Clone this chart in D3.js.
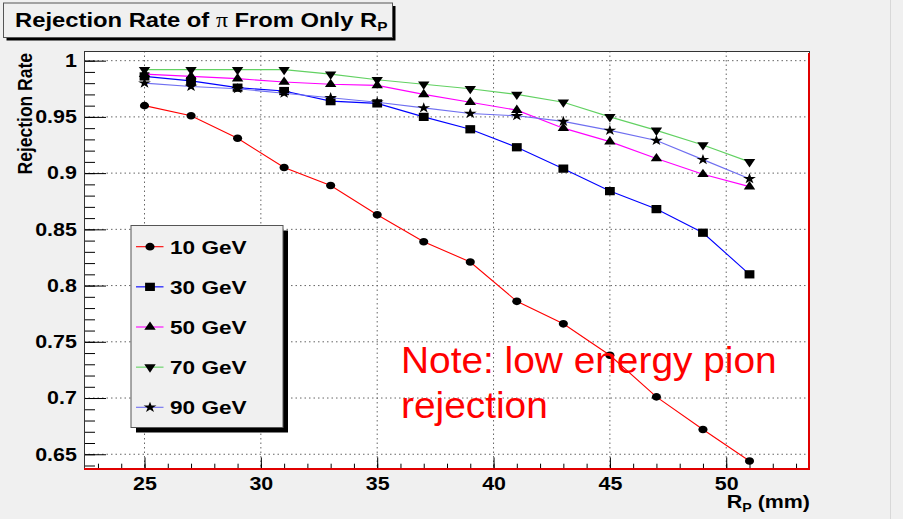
<!DOCTYPE html>
<html>
<head>
<meta charset="utf-8">
<script src="https://cdn.jsdelivr.net/npm/d3@7"></script>
<style>
  body { margin: 0; background: #f0f0f0; }
  svg { display: block; }
  text { font-family: "Liberation Sans", Arial, Helvetica, sans-serif; }
</style>
</head>
<body>
<div id="chart"></div>
<script>
const width = 903,
    height = 519

// R_P in mm
const rp = [25, 27, 29, 31, 33, 35, 37, 39, 41, 43, 45, 47, 49, 51]

const gev10 = [0.960, 0.951, 0.931, 0.905, 0.889, 0.863, 0.839, 0.821, 0.786, 0.766, 0.738, 0.701, 0.672, 0.644]
const gev30 = [0.986, 0.982, 0.976, 0.973, 0.964, 0.962, 0.950, 0.939, 0.923, 0.904, 0.884, 0.868, 0.847, 0.810]
const gev50 = [0.988, 0.986, 0.984, 0.981, 0.979, 0.978, 0.970, 0.963, 0.956, 0.940, 0.928, 0.913, 0.899, 0.888]
const gev70 = [0.992, 0.992, 0.992, 0.992, 0.988, 0.983, 0.979, 0.975, 0.970, 0.963, 0.950, 0.938, 0.925, 0.910]
const gev90 = [0.980, 0.977, 0.975, 0.971, 0.967, 0.963, 0.958, 0.953, 0.951, 0.946, 0.938, 0.929, 0.912, 0.895]

const seriesNames = ["10 GeV", "30 GeV", "50 GeV", "70 GeV", "90 GeV"]
const seriesValues = [gev10, gev30, gev50, gev70, gev90]

const xTicks = [25, 30, 35, 40, 45, 50]
const xMinor = d3.range(23, 54, 1)
const yTicks = [0.65, 0.7, 0.75, 0.8, 0.85, 0.9, 0.95, 1]
const yMinor = d3.range(64, 101, 1).map(d => d / 100)

// picture is stretched sideways a bit (like the original export)
const SX = 1.19

const color = d3.scaleOrdinal(seriesNames, ["#ff0000", "#0000ff", "#ff00ff", "#62d162", "#6f6ff0"])
const shape = d3.scaleOrdinal(seriesNames, [d3.symbolCircle, d3.symbolSquare, d3.symbolTriangle, d3.symbolTriangle, d3.symbolStar])
const shapeSize = d3.scaleOrdinal(seriesNames, [46, 68, 40, 40, 36])
const flip = name => name === "70 GeV" ? " rotate(180)" : ""

const frame = {left: 84, right: 810, top: 51, bottom: 470}

const x = d3.scaleLinear().domain([22.4, 53.6]).range([frame.left, frame.right])
const y = d3.scaleLinear().domain([0.636, 1.0086]).range([frame.bottom, frame.top])

const svg = d3.select("#chart")
    .append("svg")
    .attr("width", width)
    .attr("height", height)

svg.append("rect")
    .attr("width", width)
    .attr("height", height)
    .attr("fill", "#f0f0f0")

svg.append("line")
    .attr("x1", 890.5).attr("x2", 890.5)
    .attr("y1", 0).attr("y2", height)
    .attr("stroke", "#d8d8d8")

// title box
svg.append("rect")
    .attr("x", 6.5).attr("y", 6)
    .attr("width", 389).attr("height", 34.5)
    .attr("fill", "#000")
svg.append("rect")
    .attr("x", 3.5).attr("y", 3)
    .attr("width", 389).attr("height", 34.5)
    .attr("fill", "#f0f0f0")
    .attr("stroke", "#555")

const title = svg.append("text")
    .attr("transform", `translate(15,26.7) scale(${SX},1)`)
    .attr("font-size", 20)
    .attr("font-weight", "bold")
title.append("tspan").text("Rejection Rate of ")
title.append("tspan")
    .style("font-family", "'Liberation Serif', 'Times New Roman', serif")
    .attr("font-weight", "normal")
    .text("\u03c0")
title.append("tspan").text(" From Only R")
title.append("tspan")
    .attr("font-size", 13)
    .attr("dy", 4)
    .text("P")

// plot area
svg.append("rect")
    .attr("x", frame.left).attr("y", frame.top)
    .attr("width", frame.right - frame.left)
    .attr("height", frame.bottom - frame.top)
    .attr("fill", "#fff")

// dotted grid
svg.append("g")
    .selectAll("line")
    .data(xTicks)
    .enter()
    .append("line")
    .attr("x1", d => x(d)).attr("x2", d => x(d))
    .attr("y1", frame.top).attr("y2", frame.bottom)
    .attr("stroke", "#666")
    .attr("stroke-dasharray", "1.5,3")

svg.append("g")
    .selectAll("line")
    .data(yTicks)
    .enter()
    .append("line")
    .attr("x1", frame.left).attr("x2", frame.right)
    .attr("y1", d => y(d)).attr("y2", d => y(d))
    .attr("stroke", "#666")
    .attr("stroke-dasharray", "1.5,3")

// axes, ticks pointing inwards
const yAxis = svg.append("g")
    .attr("transform", `translate(${frame.left},0)`)
    .call(d3.axisLeft(y).tickValues(yTicks).tickSizeInner(-22).tickSizeOuter(0).tickPadding(6)
        .tickFormat(d3.format("~g")))
svg.append("g")
    .attr("transform", `translate(${frame.left},0)`)
    .call(d3.axisLeft(y).tickValues(yMinor).tickSizeInner(-11).tickSizeOuter(0).tickFormat(""))

const xAxis = svg.append("g")
    .attr("transform", `translate(0,${frame.bottom})`)
    .call(d3.axisBottom(x).tickValues(xTicks).tickSizeInner(-12.6).tickSizeOuter(0).tickPadding(7))
svg.append("g")
    .attr("transform", `translate(0,${frame.bottom})`)
    .call(d3.axisBottom(x).tickValues(xMinor).tickSizeInner(-6.3).tickSizeOuter(0).tickFormat(""))

svg.selectAll(".domain").remove()
svg.selectAll(".tick line").attr("stroke", "#000")

yAxis.selectAll("text")
    .attr("font-size", 18)
    .attr("font-weight", "bold")
    .attr("font-family", null)
    .attr("transform", `scale(${SX},1)`)
xAxis.selectAll("text")
    .attr("font-size", 18)
    .attr("font-weight", "bold")
    .attr("font-family", null)
    .attr("transform", `scale(${SX},1)`)

// frame border
svg.append("rect")
    .attr("x", frame.left + 0.5).attr("y", frame.top + 0.5)
    .attr("width", frame.right - frame.left - 1)
    .attr("height", frame.bottom - frame.top - 1)
    .attr("fill", "none")
    .attr("stroke", "#333")
svg.append("path")
    .attr("d", `M${frame.right - 1},${frame.top + 2}V${frame.bottom - 1}H${frame.left}`)
    .attr("fill", "none")
    .attr("stroke", "#e00000")
    .attr("stroke-width", 2)

// axis titles
svg.append("text")
    .attr("transform", `translate(31.5,53) rotate(-90) scale(1,${SX})`)
    .attr("text-anchor", "end")
    .attr("font-size", 17.5)
    .attr("font-weight", "bold")
    .text("Rejection Rate")

const xTitle = svg.append("text")
    .attr("transform", `translate(810,508) scale(${SX},1)`)
    .attr("text-anchor", "end")
    .attr("font-size", 18)
    .attr("font-weight", "bold")
xTitle.append("tspan").text("R")
xTitle.append("tspan").attr("font-size", 12).attr("dy", 4).text("P")
xTitle.append("tspan").attr("dy", -4).text(" (mm)")

// series
const series = seriesNames.map((name, i) => ({
    name: name,
    points: rp.map((r, j) => ({x: r, y: seriesValues[i][j]}))
}))

const line = d3.line()
    .x(d => x(d.x))
    .y(d => y(d.y))

const graphs = svg.append("g")
    .selectAll("g")
    .data(series)
    .enter()
    .append("g")

graphs.append("path")
    .attr("d", d => line(d.points))
    .attr("fill", "none")
    .attr("stroke", d => color(d.name))
    .attr("stroke-width", 1.1)

graphs.each(function (s) {
    d3.select(this)
        .selectAll("path.marker")
        .data(s.points)
        .enter()
        .append("path")
        .attr("class", "marker")
        .attr("d", d3.symbol().type(shape(s.name)).size(shapeSize(s.name)))
        .attr("transform", d => `translate(${x(d.x)},${y(d.y)}) scale(${SX},1)${flip(s.name)}`)
        .attr("fill", "#000")
})

// legend
const leg = {left: 131, top: 225.5, width: 152, height: 202}
svg.append("rect")
    .attr("x", leg.left + 5).attr("y", leg.top + 5)
    .attr("width", leg.width).attr("height", leg.height)
    .attr("fill", "#000")
svg.append("rect")
    .attr("x", leg.left).attr("y", leg.top)
    .attr("width", leg.width).attr("height", leg.height)
    .attr("fill", "#f0f0f0")
    .attr("stroke", "#555")

const legY = d3.scalePoint().domain(seriesNames).range([246.7, 407.3])

const entry = svg.append("g")
    .selectAll("g")
    .data(seriesNames)
    .enter()
    .append("g")
    .attr("transform", d => `translate(0,${legY(d)})`)

entry.append("line")
    .attr("x1", 136).attr("x2", 163.5)
    .attr("stroke", d => color(d))
    .attr("stroke-width", 1.1)

entry.append("path")
    .attr("d", d => d3.symbol().type(shape(d)).size(shapeSize(d))())
    .attr("transform", d => `translate(150,0) scale(${SX},1)${flip(d)}`)
    .attr("fill", "#000")

entry.append("text")
    .attr("transform", `translate(170,7) scale(${SX},1)`)
    .attr("font-size", 19)
    .attr("font-weight", "bold")
    .text(d => d)

// note
const note = svg.append("g")
    .attr("fill", "#ff0000")
    .attr("font-size", 37)
note.append("text")
    .attr("transform", "translate(401,373) scale(1.05,1)")
    .text("Note: low energy pion")
note.append("text")
    .attr("transform", "translate(401,418) scale(1.05,1)")
    .text("rejection")
</script>
</body>
</html>
